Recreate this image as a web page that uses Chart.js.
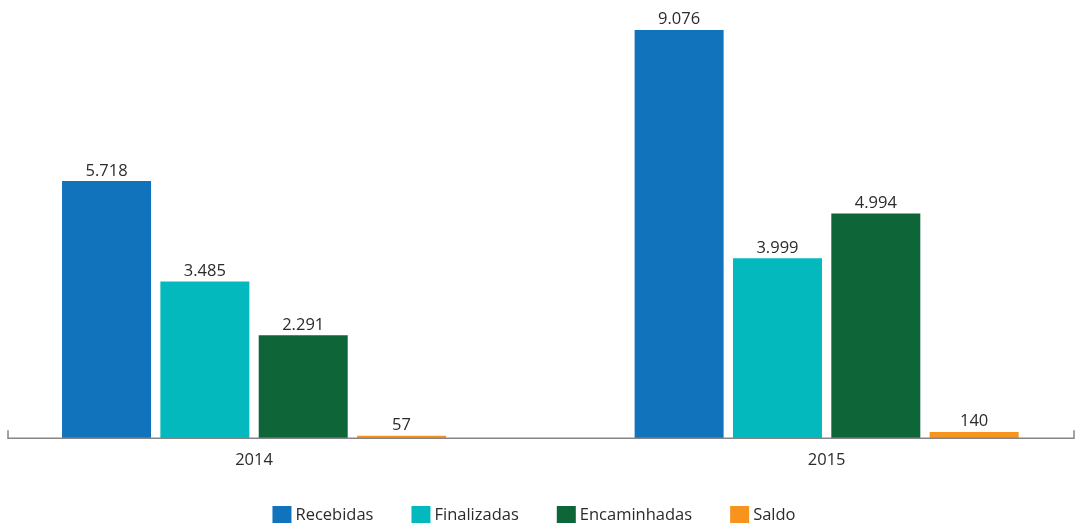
<!DOCTYPE html>
<html>
<head>
<meta charset="utf-8">
<script src="https://cdn.jsdelivr.net/npm/chart.js@4/dist/chart.umd.min.js"></script>
<style>
html,body{margin:0;padding:0;background:#fff;}
#wrap{width:1076px;height:523px;position:relative;}
</style>
</head>
<body>
<div id="wrap"><canvas id="c" width="1076" height="523"></canvas></div>
<script>
const years = [2014, 2015];
const seriesNames = ['Recebidas', 'Finalizadas', 'Encaminhadas', 'Saldo'];
const recebidas = [5718, 9076];
const finalizadas = [3485, 3999];
const encaminhadas = [2291, 4994];
const saldo = [57, 140];
const seriesColors = ['#1173BC', '#03B9BD', '#0E6538', '#F7941D'];

const FONT = "'Open Sans', 'DejaVu Sans', sans-serif";
const allSeries = [recebidas, finalizadas, encaminhadas, saldo];

const datasets = allSeries.map((vals, i) => ({
  label: seriesNames[i],
  data: vals.map((v, j) => ({x: years[j], y: v})),
  backgroundColor: seriesColors[i],
  borderWidth: 0,
  categoryPercentage: 0.687,
  barPercentage: 0.905
}));

function fmt(v) {
  return String(v).replace(/\B(?=(\d{3})+(?!\d))/g, '.');
}

const decor = {
  id: 'decor',
  afterDatasetsDraw(chart) {
    const ctx = chart.ctx;
    ctx.save();
    ctx.font = '16.5px ' + FONT;
    ctx.fillStyle = '#2b2b2b';
    ctx.textAlign = 'center';
    ctx.textBaseline = 'bottom';
    chart.data.datasets.forEach((ds, i) => {
      const meta = chart.getDatasetMeta(i);
      meta.data.forEach((bar, j) => {
        ctx.fillText(fmt(ds.data[j].y), bar.x, bar.y - 2);
      });
    });
    const a = chart.chartArea;
    ctx.strokeStyle = '#858585';
    ctx.lineWidth = 1.5;
    ctx.beginPath();
    ctx.moveTo(a.left, a.bottom - 8);
    ctx.lineTo(a.left, a.bottom);
    ctx.lineTo(a.right, a.bottom);
    ctx.lineTo(a.right, a.bottom - 8);
    ctx.stroke();

    // legend
    ctx.font = '16.5px ' + FONT;
    ctx.textAlign = 'left';
    ctx.textBaseline = 'middle';
    const boxW = 19, boxH = 17, gapText = 4, gapItem = 38;
    const widths = chart.data.datasets.map(ds => boxW + gapText + ctx.measureText(ds.label).width);
    const total = widths.reduce((s, w) => s + w, 0) + gapItem * (widths.length - 1);
    let x = 534 - total / 2;
    const yTop = 506;
    chart.data.datasets.forEach((ds, i) => {
      ctx.fillStyle = ds.backgroundColor;
      ctx.fillRect(x, yTop, boxW, boxH);
      ctx.fillStyle = '#2b2b2b';
      ctx.fillText(ds.label, x + boxW + gapText, yTop + boxH / 2 + 1);
      x += widths[i] + gapItem;
    });
    ctx.restore();
  }
};

new Chart(document.getElementById('c'), {
  type: 'bar',
  data: { datasets },
  options: {
    responsive: false,
    animation: false,
    layout: { padding: { left: 8, right: 2, top: 0, bottom: 41 } },
    scales: {
      x: {
        type: 'linear',
        offset: false,
        min: years[0] - 0.4297,
        max: years[1] + 0.432,
        afterBuildTicks(scale) { scale.ticks = years.map(y => ({value: y})); },
        ticks: {
          callback: v => String(v),
          font: { family: FONT, size: 16.5 },
          color: '#2b2b2b',
          padding: 12,
          maxRotation: 0,
          autoSkip: false
        },
        grid: { display: false, drawTicks: false },
        border: { display: false }
      },
      y: {
        display: false,
        min: 0,
        max: 9744
      }
    },
    plugins: {
      legend: { display: false },
      tooltip: { enabled: false }
    }
  },
  plugins: [decor]
});
</script>
</body>
</html>
